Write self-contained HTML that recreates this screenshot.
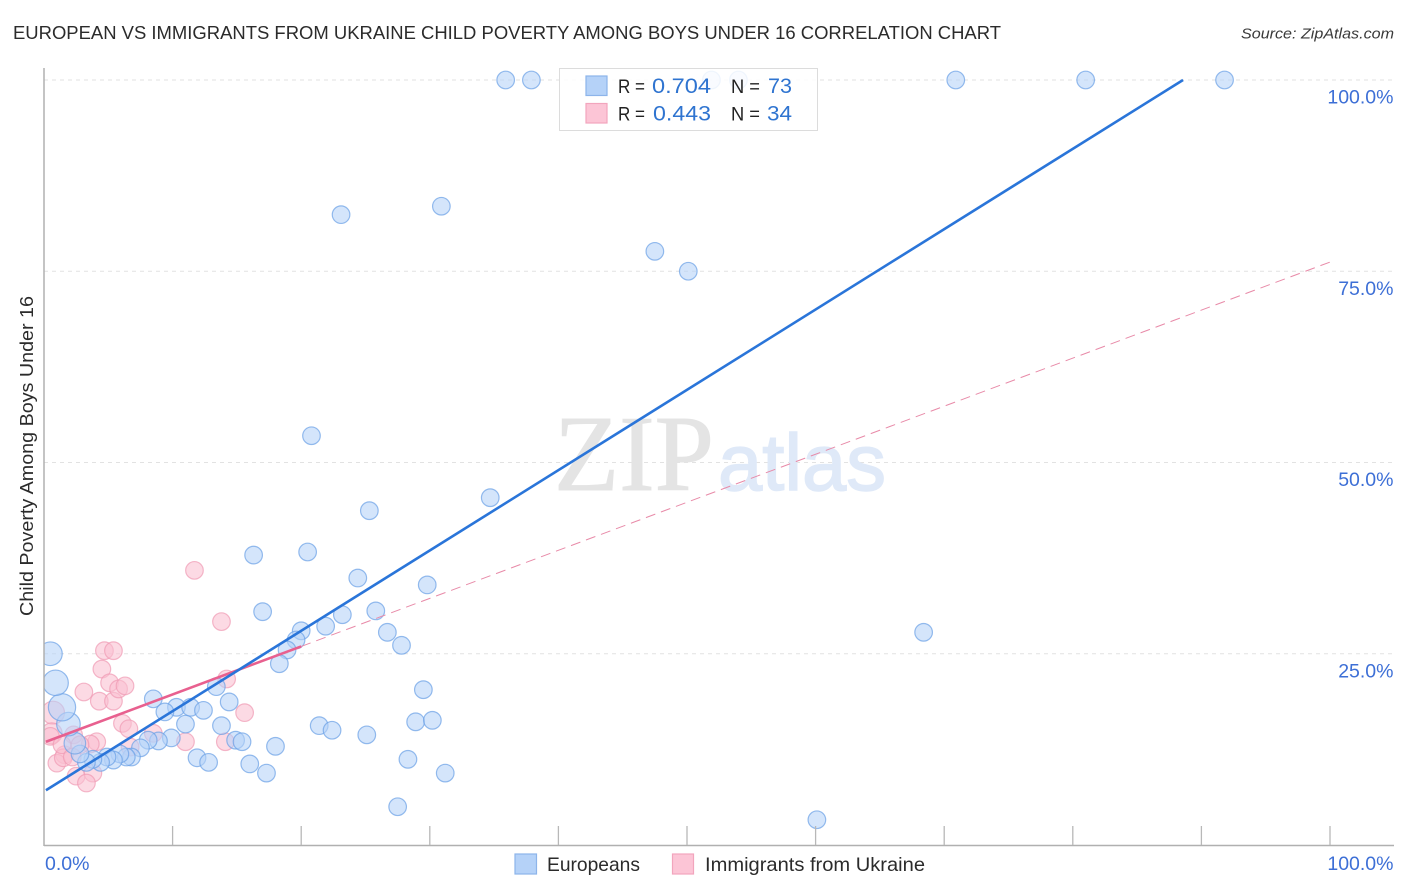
<!DOCTYPE html>
<html>
<head>
<meta charset="utf-8">
<title>European vs Immigrants from Ukraine Child Poverty Among Boys Under 16 Correlation Chart</title>
<style>
html,body{margin:0;padding:0;background:#fff;width:1406px;height:892px;overflow:hidden}
svg{display:block;font-family:"Liberation Sans",sans-serif}
</style>
</head>
<body>
<svg id="chart" width="1406" height="892" viewBox="0 0 1406 892" xmlns="http://www.w3.org/2000/svg">
  <defs><clipPath id="plot-clip"><rect x="44" y="60" width="1350" height="785"/></clipPath></defs>
  <text x="13" y="39" font-size="18.5" fill="#2b2b2b" textLength="988" lengthAdjust="spacingAndGlyphs">EUROPEAN VS IMMIGRANTS FROM UKRAINE CHILD POVERTY AMONG BOYS UNDER 16 CORRELATION CHART</text>
  <text x="1241" y="38.500" font-size="15" font-style="italic" fill="#3a3a3a" textLength="153" lengthAdjust="spacingAndGlyphs">Source: ZipAtlas.com</text>
  <g id="grid"></g>
  <g>
    <text x="554" y="490" font-family="'Liberation Serif',serif" font-size="108" fill="#e4e4e4" stroke="#e4e4e4" stroke-width="1" textLength="160" lengthAdjust="spacingAndGlyphs">ZIP</text>
    <text x="718" y="490" font-size="80" fill="#dfe9f8" stroke="#dfe9f8" stroke-width="1.500" textLength="168" lengthAdjust="spacingAndGlyphs">atlas</text>
  </g>
  <g id="pts" clip-path="url(#plot-clip)"></g>
  <g id="lines"></g>
  <g id="axes"></g>
  <text transform="translate(33,616) rotate(-90)" font-size="18" fill="#2b2b2b" textLength="320" lengthAdjust="spacingAndGlyphs">Child Poverty Among Boys Under 16</text>
  <g>
    <rect x="559.500" y="68.500" width="258" height="62" fill="#fff" fill-opacity="0.85" stroke="#dcdcdc" stroke-width="1"/>
    <rect x="586" y="76" width="21" height="19.500" fill="#b5d2f8" stroke="#8db4ea" stroke-width="1.200"/>
    <rect x="586" y="103.500" width="21" height="19.500" fill="#fcc5d6" stroke="#f2a5bd" stroke-width="1.200"/>
    <text x="618" y="93" font-size="19" fill="#222" textLength="27" lengthAdjust="spacingAndGlyphs">R =</text>
    <text x="652" y="93" font-size="21" fill="#2f74d0" textLength="59" lengthAdjust="spacingAndGlyphs">0.704</text>
    <text x="731" y="93" font-size="19" fill="#222" textLength="29" lengthAdjust="spacingAndGlyphs">N =</text>
    <text x="768" y="93" font-size="21" fill="#2f74d0" textLength="24" lengthAdjust="spacingAndGlyphs">73</text>
    <text x="618" y="120.500" font-size="19" fill="#222" textLength="27" lengthAdjust="spacingAndGlyphs">R =</text>
    <text x="653" y="120.500" font-size="21" fill="#2f74d0" textLength="58" lengthAdjust="spacingAndGlyphs">0.443</text>
    <text x="731" y="120.500" font-size="19" fill="#222" textLength="29" lengthAdjust="spacingAndGlyphs">N =</text>
    <text x="767" y="120.500" font-size="21" fill="#2f74d0" textLength="25" lengthAdjust="spacingAndGlyphs">34</text>
  </g>
  <g>
    <rect x="515" y="854" width="21.500" height="20" fill="#b5d2f8" stroke="#8db4ea" stroke-width="1.200"/>
    <text x="547" y="871" font-size="19.500" fill="#2b2b2b" textLength="93" lengthAdjust="spacingAndGlyphs">Europeans</text>
    <rect x="672.500" y="854" width="21" height="20" fill="#fcc5d6" stroke="#f2a5bd" stroke-width="1.200"/>
    <text x="705" y="871" font-size="19.500" fill="#2b2b2b" textLength="220" lengthAdjust="spacingAndGlyphs">Immigrants from Ukraine</text>
  </g>
</svg>
<script>
const europeansX = [35.9,37.9,51.9,54.0,70.9,81.0,91.8,23.1,30.9,47.5,50.1,20.8,34.7,25.3,16.3,20.5,24.4,29.8,17.0,25.8,23.2,21.9,20.0,26.7,19.6,27.8,18.9,18.3,68.4,29.5,13.4,8.5,14.4,10.3,11.4,12.4,9.4,11.0,13.8,21.4,22.4,28.9,30.2,25.1,18.0,14.9,15.4,9.9,8.9,8.1,7.5,11.9,12.8,16.0,17.3,28.3,31.2,27.5,60.1,6.8,6.4,5.9,5.4,4.9,4.4,3.8,3.3,2.8,2.4,1.9,1.4,0.9,0.5];
const europeansY = [100,100,100,100,100,100,100,82.4,83.5,77.6,75.0,53.5,45.4,43.7,37.9,38.3,34.9,34.0,30.5,30.6,30.1,28.6,28.0,27.8,26.8,26.1,25.5,23.7,27.8,20.3,20.7,19.1,18.7,18.0,18.0,17.6,17.4,15.8,15.6,15.6,15.0,16.1,16.3,14.4,12.9,13.7,13.5,14.0,13.6,13.7,12.7,11.4,10.8,10.6,9.4,11.2,9.4,5.0,3.3,11.5,11.5,11.9,11.1,11.5,10.8,11.2,10.8,11.9,13.3,15.8,18.0,21.2,25.0];
const europeansWeight = [1,1,1,1,1,1,1,1,1,1,1,1,1,1,1,1,1,1,1,1,1,1,1,1,1,1,1,1,1,1,1,1,1,1,1,1,1,1,1,1,1,1,1,1,1,1,1,1,1,1,1,1,1,1,1,1,1,1,1,1,1,1,1,1,1,1,1,1,1.5,1.8,2.4,2.1,1.8];
const ukraineX = [4.7,5.4,4.5,3.1,4.3,5.4,5.1,5.8,6.3,13.8,11.7,14.2,15.6,6.1,6.6,8.5,11.0,14.1,0.7,0.6,0.5,2.3,4.1,3.6,1.6,1.0,1.5,2.5,3.8,3.3,6.7,1.4,2.8,2.2];
const ukraineY = [25.4,25.4,23.0,20.0,18.8,18.8,21.2,20.4,20.8,29.2,35.9,21.7,17.3,15.9,15.2,14.6,13.5,13.5,17.3,14.6,14.2,14.4,13.5,13.2,11.8,10.7,11.4,9.0,9.4,8.1,12.8,13.1,13.1,11.5];
const ukraineWeight = [1,1,1,1,1,1,1,1,1,1,1,1,1,1,1,1,1,1,1.7,1.4,1,1,1,1,1,1,1,1,1,1,1,1,1,1];
const europeansTrend = [7.0, 1.05];
const ukraineTrend = [13.4, 0.628];
const ukraineSolidEnd = 20;
const ukraineDashEnd = 100;
const yTickValues = [25, 50, 75, 100];
const yTickLabels = ["25.0%", "50.0%", "75.0%", "100.0%"];
const xTickValues = [0, 10, 20, 30, 40, 50, 60, 70, 80, 90, 100];
const xEndLabels = ["0.0%", "100.0%"];

const NS = "http://www.w3.org/2000/svg";
function xs(v){ return 44 + v * 12.86; }
function ys(v){ return 845 - v * 7.65; }
function make(tag, attrs, parent){
  const el = document.createElementNS(NS, tag);
  for (const k in attrs) el.setAttribute(k, attrs[k]);
  parent.appendChild(el);
  return el;
}
const gridG = document.getElementById("grid");
const axesG = document.getElementById("axes");
const ptsG = document.getElementById("pts");
const linesG = document.getElementById("lines");

yTickValues.forEach(function(v, i){
  const g = make("line", {x1:44, x2:1393, y1:ys(v), y2:ys(v), stroke: "#e2e2e2", "stroke-width":1, "stroke-dasharray":"4 4"}, gridG);
  
  
  const t = make("text", {x:1393.500, y:ys(v)+23.500, "text-anchor":"end", "font-size":19.500, fill:"#3d6fd6"}, axesG);
  
  
  t.textContent = yTickLabels[i];
});

function drawSeries(X, Y, W, fill, stroke, name){
  X.forEach(function(v, i){
    const c = make("circle", {cx:xs(v), cy:ys(Y[i]), r:8.8*Math.sqrt(W[i]), fill:fill, "fill-opacity":0.58, stroke:stroke, "stroke-width":1.2, "stroke-opacity":0.7}, ptsG);
    
    
  });
}
drawSeries(ukraineX, ukraineY, ukraineWeight, "#f9bfd0", "#f09ab4", "ukraine-point");
drawSeries(europeansX, europeansY, europeansWeight, "#b5d2f8", "#6a9fe6", "european-point");

function trend(coef, x){ return coef[0] + coef[1] * x; }
const dash = make("line", {x1:xs(ukraineSolidEnd), y1:ys(trend(ukraineTrend, ukraineSolidEnd)), x2:xs(ukraineDashEnd), y2:ys(trend(ukraineTrend, ukraineDashEnd)), stroke:"#e88aa8", "stroke-width":1, "stroke-dasharray":"10 6"}, linesG);


const solid = make("line", {x1:xs(0.15), y1:ys(trend(ukraineTrend, 0.15)), x2:xs(ukraineSolidEnd), y2:ys(trend(ukraineTrend, ukraineSolidEnd)), stroke:"#e8608f", "stroke-width":2.600}, linesG);


const blueEnd = (100 - europeansTrend[0]) / europeansTrend[1];
const blue = make("line", {x1:xs(0.15), y1:ys(trend(europeansTrend, 0.15)), x2:xs(blueEnd), y2:ys(100), stroke:"#2a75d9", "stroke-width":2.600}, linesG);



const yAxis = make("line", {x1:44, x2:44, y1:68, y2:846, stroke:"#b0b0b0", "stroke-width":1.500}, axesG);


const xAxis = make("line", {x1:44, x2:1394, y1:845.500, y2:845.500, stroke:"#b0b0b0", "stroke-width":1.500}, axesG);


xTickValues.slice(1).forEach(function(v){
  const t = make("line", {x1:xs(v), x2:xs(v), y1:826, y2:845, stroke:"#b8b8b8", "stroke-width":1.300}, axesG);
  
  
});
const xl0 = make("text", {x:45, y:870, "font-size":19.500, fill:"#3d6fd6"}, axesG);


xl0.textContent = xEndLabels[0];
const xl1 = make("text", {x:1393.500, y:870, "text-anchor":"end", "font-size":19.500, fill:"#3d6fd6"}, axesG);


xl1.textContent = xEndLabels[1];
</script>
</body>
</html>
